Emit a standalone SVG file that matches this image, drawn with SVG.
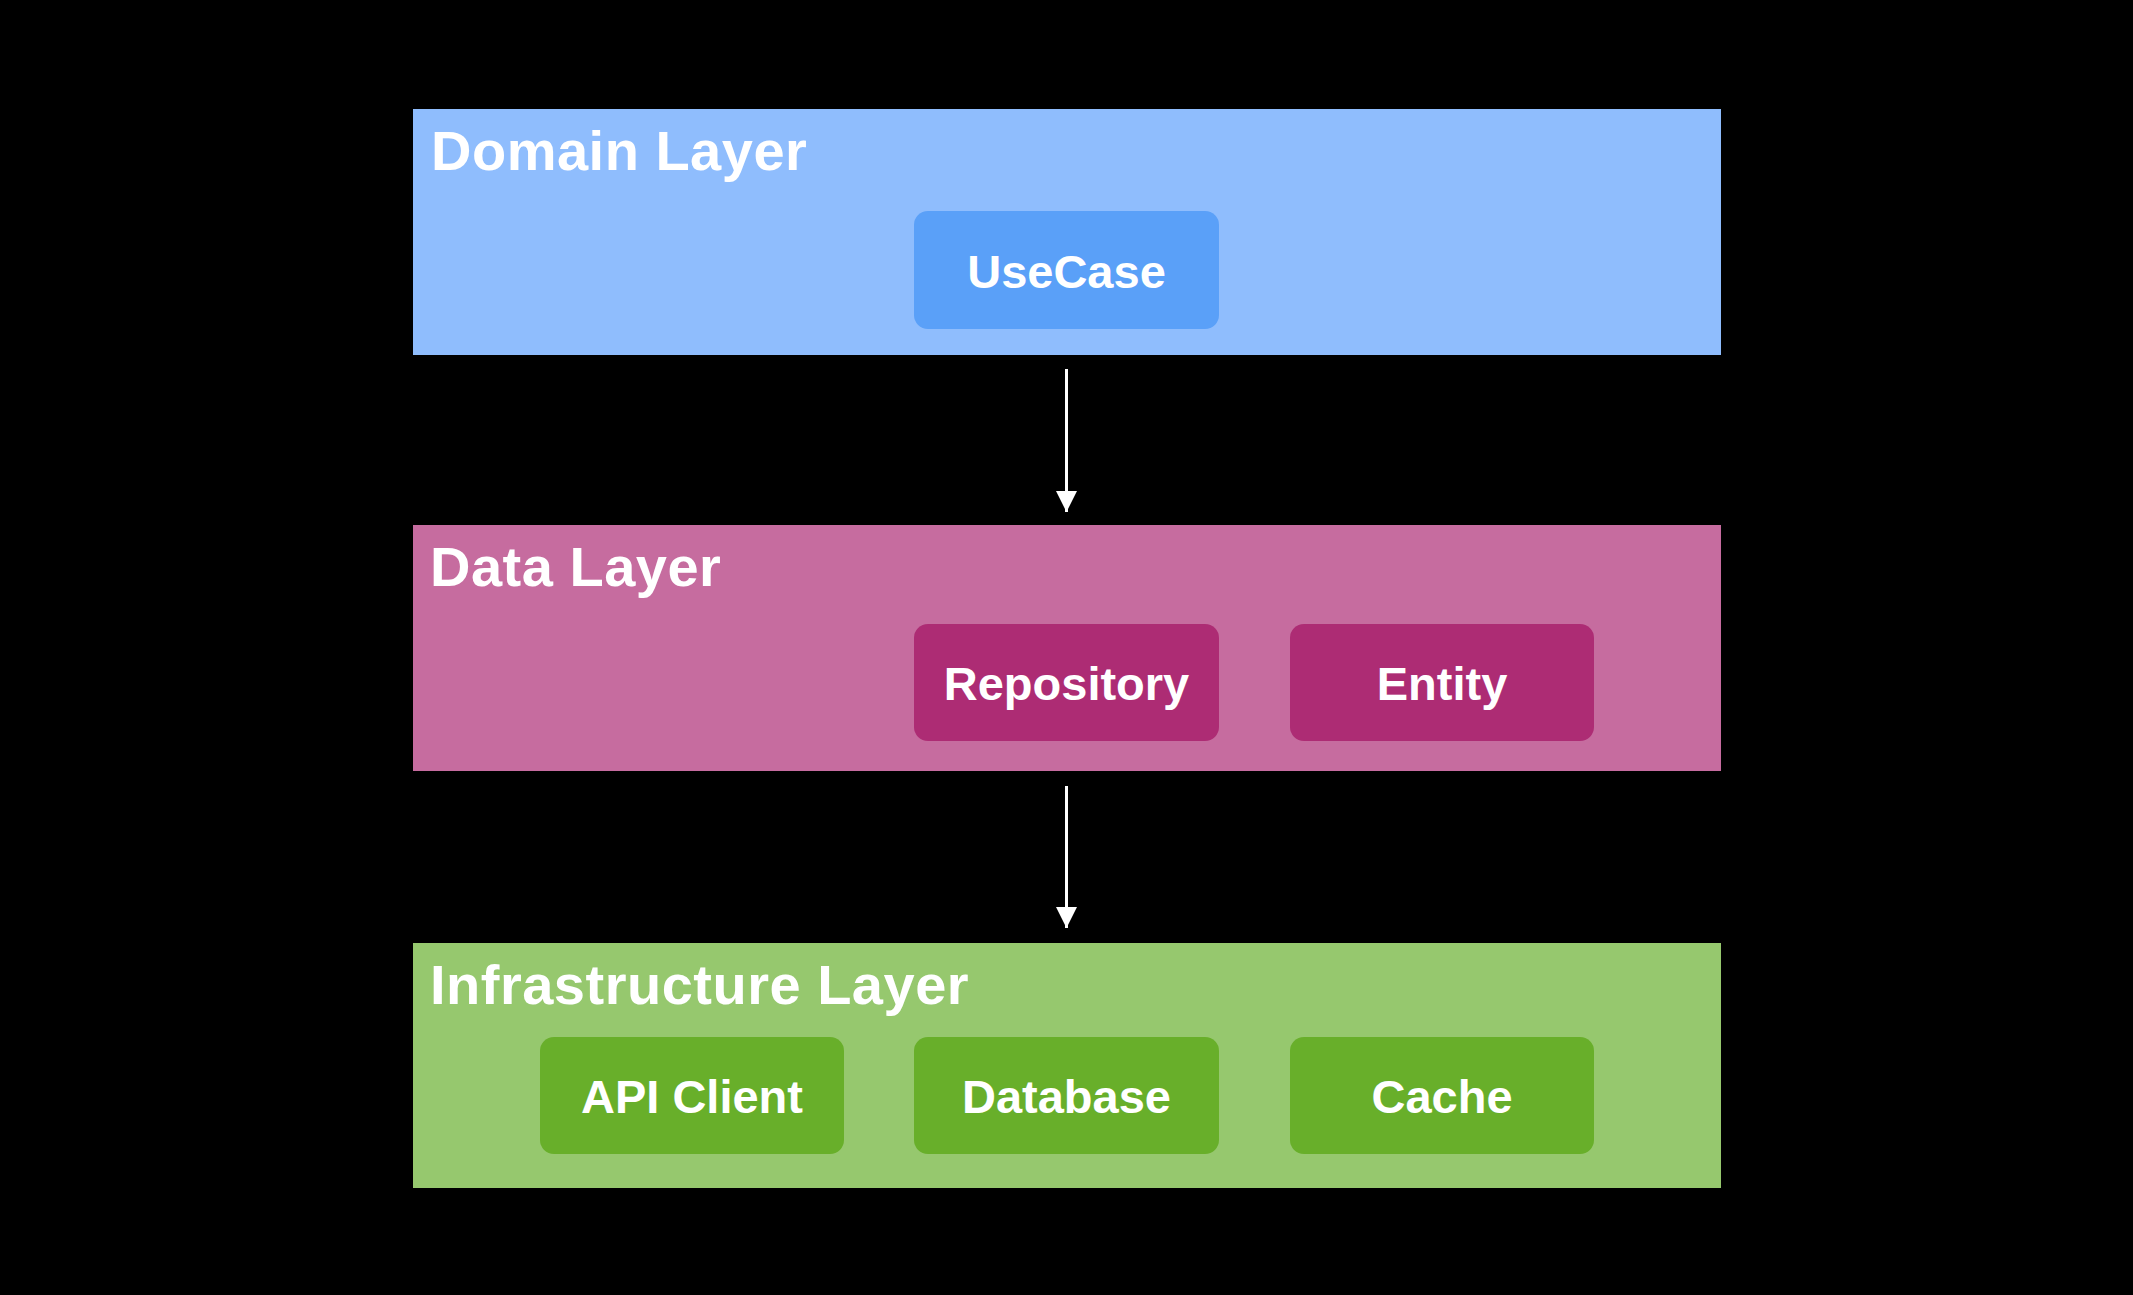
<svg xmlns="http://www.w3.org/2000/svg" width="2133" height="1295" viewBox="0 0 2133 1295">
<style>
.layer-title{font-family:"Liberation Sans",Arial,sans-serif;font-weight:bold;font-size:56px;letter-spacing:0.5px;fill:#ffffff}
.box-label{font-family:"Liberation Sans",Arial,sans-serif;font-weight:bold;font-size:47px;fill:#ffffff;text-anchor:middle;dominant-baseline:central}
.conn{stroke:#ffffff;stroke-width:3;fill:none}
</style>
<defs>
<marker id="arrow" viewBox="0 0 20 20" refX="20" refY="10" markerUnits="userSpaceOnUse" markerWidth="21" markerHeight="21" orient="auto">
<path d="M0,0 L20,10 L0,20 Z" fill="#ffffff"/>
</marker>
</defs>
<rect x="0" y="0" width="2133" height="1295" fill="#000000"/>
<g id="domain-layer">
<rect x="413" y="109" width="1308" height="246" fill="#8fbdfd"/>
<text class="layer-title" x="431" y="170">Domain Layer</text>
</g>
<g id="usecase">
<rect x="914" y="211" width="305" height="118" rx="14" fill="#5aa0f8"/>
<text class="box-label" x="1066.5" y="271">UseCase</text>
</g>
<g id="data-layer">
<rect x="413" y="525" width="1308" height="246" fill="#c66c9f"/>
<text class="layer-title" x="430" y="586">Data Layer</text>
</g>
<g id="repository">
<rect x="914" y="624" width="305" height="117" rx="14" fill="#ad2c74"/>
<text class="box-label" x="1066.5" y="683">Repository</text>
</g>
<g id="entity">
<rect x="1290" y="624" width="304" height="117" rx="14" fill="#ad2c74"/>
<text class="box-label" x="1442" y="683">Entity</text>
</g>
<g id="infrastructure-layer">
<rect x="413" y="943" width="1308" height="245" fill="#96c86e"/>
<text class="layer-title" x="430" y="1004">Infrastructure Layer</text>
</g>
<g id="api-client">
<rect x="540" y="1037" width="304" height="117" rx="14" fill="#68af2a"/>
<text class="box-label" x="692" y="1096">API Client</text>
</g>
<g id="database">
<rect x="914" y="1037" width="305" height="117" rx="14" fill="#68af2a"/>
<text class="box-label" x="1066.5" y="1096">Database</text>
</g>
<g id="cache">
<rect x="1290" y="1037" width="304" height="117" rx="14" fill="#68af2a"/>
<text class="box-label" x="1442" y="1096">Cache</text>
</g>
<g id="connectors">
<line class="conn" x1="1066.5" y1="369" x2="1066.5" y2="512" marker-end="url(#arrow)"/>
<line class="conn" x1="1066.5" y1="786" x2="1066.5" y2="928" marker-end="url(#arrow)"/>
</g>
</svg>
